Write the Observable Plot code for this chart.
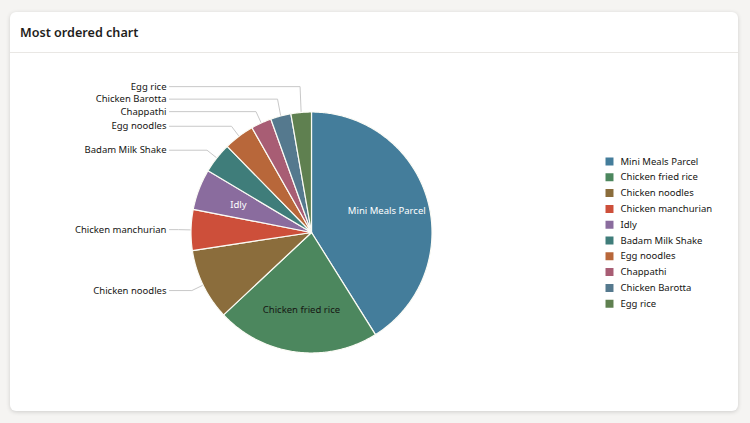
<!DOCTYPE html>
<html>
<head>
<meta charset="utf-8">
<script src="https://cdn.jsdelivr.net/npm/d3@7"></script>
<script src="https://cdn.jsdelivr.net/npm/@observablehq/plot@0.6"></script>
<style>
  html, body { margin: 0; padding: 0; background: #f5f4f2; width: 750px; height: 423px; overflow: hidden; }
  #card { position: absolute; left: 10px; top: 12px; width: 728px; height: 399px; background: #fff;
    border-radius: 6px; box-shadow: 0 1px 4px rgba(0,0,0,0.16); overflow: hidden; }
  #head { height: 40px; border-bottom: 1px solid #e9e7e4; font-family: "Noto Sans", sans-serif;
    font-size: 12.6px; font-weight: 600; color: #1f1e1c; line-height: 42px; padding-left: 10px; box-sizing: content-box; }
  #chart { position: absolute; left: 0; top: 41px; }
</style>
</head>
<body>
<div id="card">
  <div id="head">Most ordered chart</div>
  <div id="chart"></div>
</div>
<script>
const names = ["Mini Meals Parcel","Chicken fried rice","Chicken noodles","Chicken manchurian","Idly","Badam Milk Shake","Egg noodles","Chappathi","Chicken Barotta","Egg rice"];
const orders = [30, 16, 7, 4, 4, 3, 3, 2, 2, 2];
const palette = ["#447d9b","#4c875e","#8b6d3c","#cd4f3a","#8a6c9e","#3f7d7a","#b8673a","#a85d74","#55798e","#5f8050"];
const darkLabels = new Set(["Chicken fried rice"]);

const W = 728, H = 357;
const cx = 301, cy = 179, R = 120.5;
const data = names.map((n, i) => ({name: n, value: orders[i]}));
const arcs = d3.pie().sort(null).value(d => d.value)(data);

// slice polygons
const slicePts = [];
for (const a of arcs) {
  const pts = [[cx, cy]];
  const steps = Math.max(4, Math.ceil((a.endAngle - a.startAngle) / 0.01));
  for (let k = 0; k <= steps; k++) {
    const t = a.startAngle + (a.endAngle - a.startAngle) * k / steps;
    pts.push([cx + R * Math.sin(t), cy - R * Math.cos(t)]);
  }
  pts.push([cx, cy]);
  pts.forEach(p => slicePts.push({name: a.data.name, x: p[0], y: p[1]}));
}

// label measuring
const ctx = document.createElement("canvas").getContext("2d");
ctx.font = "9.5px 'Noto Sans'";
const rIn = R * 0.65;
const inside = [], outside = [];
for (const a of arcs) {
  const mid = (a.startAngle + a.endAngle) / 2;
  const arcLen = (a.endAngle - a.startAngle) * rIn;
  const tw = ctx.measureText(a.data.name).width;
  if (arcLen > tw + 6) {
    inside.push({name: a.data.name, x: cx + rIn * Math.sin(mid), y: cy - rIn * Math.cos(mid),
      fill: darkLabels.has(a.data.name) ? "#161513" : "#ffffff"});
  } else {
    outside.push({name: a.data.name, mid});
  }
}
// outside labels (left side), resolve collisions upward
const RL = 133, gap = 12.5;
let prevY = Infinity;
for (const o of outside) {
  const natural = cy - RL * Math.cos(o.mid);
  o.y = Math.min(natural, prevY - gap);
  prevY = o.y;
}
const textRight = 156;
const leaderPts = [];
for (const o of outside) {
  leaderPts.push({name: o.name, x: textRight + 3, y: o.y});
  leaderPts.push({name: o.name, x: cx + RL * Math.sin(o.mid), y: o.y});
  leaderPts.push({name: o.name, x: cx + R * Math.sin(o.mid), y: cy - R * Math.cos(o.mid)});
}

// legend
const legend = names.map((n, i) => ({name: n, x: 599, y: 108 + i * 15.8}));

const plot = Plot.plot({
  width: W, height: H,
  margin: 0,
  x: {domain: [0, W], range: [0, W], axis: null},
  y: {domain: [0, H], range: [0, H], axis: null},
  color: {domain: names, range: palette},
  style: {fontFamily: "'Noto Sans', sans-serif", fontSize: "9.5px", background: "transparent", overflow: "visible"},
  marks: [
    Plot.line(leaderPts, {x: "x", y: "y", z: "name", stroke: "#c8c8c8", strokeWidth: 1, curve: "linear"}),
    Plot.line(slicePts, {x: "x", y: "y", z: "name", fill: "name", stroke: "#fbfbf5", strokeWidth: 1.2, strokeLinejoin: "round"}),
    Plot.text(inside, {x: "x", y: "y", text: "name", fill: d => d.fill}),
    Plot.text(outside, {x: textRight, y: "y", text: "name", textAnchor: "end", fill: "#161513"}),
    Plot.dot(legend, {x: "x", y: "y", symbol: "square", r: 4.5, fill: "name"}),
    Plot.text(legend, {x: d => d.x + 11, y: "y", text: "name", textAnchor: "start", fill: "#161513"})
  ]
});
document.getElementById("chart").appendChild(plot);
</script>
</body>
</html>
